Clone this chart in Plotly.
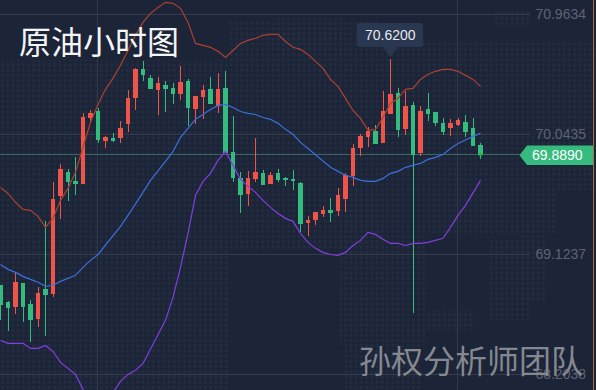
import plotly.graph_objects as go
import base64

W, H = 596, 390

opens = [68.887,68.756,68.725,68.902,68.740,68.634,68.856,68.825,69.576,69.753,69.683,69.668,70.173,70.219,69.997,70.013,70.020,70.128,70.327,70.542,70.473,70.389,70.419,70.396,70.358,70.450,70.243,70.335,70.389,70.266,70.396,69.906,69.706,69.591,69.706,69.745,69.668,69.745,69.706,69.699,69.668,69.369,69.392,69.438,69.461,69.461,69.553,69.730,69.944,70.028,70.066,69.982,70.204,70.358,70.090,70.266,69.906,70.235,70.212,70.128,70.097,70.120,70.136,70.090,69.960]
closes = [68.740,68.717,68.910,68.725,68.626,68.825,68.817,69.545,69.775,69.683,69.668,70.173,70.204,70.004,70.020,69.997,70.090,70.320,70.542,70.504,70.396,70.435,70.396,70.358,70.442,70.250,70.335,70.381,70.281,70.389,69.906,69.714,69.583,69.706,69.753,69.660,69.730,69.699,69.699,69.691,69.361,69.384,69.446,69.461,69.446,69.576,69.730,69.936,70.028,70.066,69.974,70.219,70.350,70.082,70.258,69.890,70.219,70.204,70.136,70.066,70.128,70.151,70.066,69.960,69.889]
highs = [68.887,68.763,68.986,68.902,68.771,68.871,69.377,69.676,69.813,69.775,69.867,70.204,70.227,70.243,70.028,70.051,70.143,70.381,70.550,70.603,70.496,70.481,70.450,70.435,70.565,70.465,70.335,70.419,70.481,70.511,70.527,70.181,69.753,69.760,70.013,69.768,69.753,69.775,69.714,69.768,69.676,69.415,69.446,69.492,69.553,69.630,69.745,69.967,70.044,70.097,70.112,70.373,70.620,70.396,70.373,70.289,70.258,70.358,70.219,70.166,70.159,70.173,70.196,70.173,69.975]
lows = [68.618,68.533,68.664,68.603,68.450,68.564,68.495,68.794,69.392,69.530,69.576,69.668,70.136,69.974,69.936,69.982,69.974,70.059,70.227,70.450,70.389,70.196,70.212,70.273,70.304,70.105,70.120,70.159,70.273,70.204,69.906,69.676,69.438,69.492,69.676,69.660,69.668,69.676,69.645,69.614,69.293,69.262,69.346,69.407,69.369,69.415,69.446,69.645,69.875,69.944,69.967,69.974,70.204,70.020,70.036,68.672,69.875,70.143,70.105,70.036,70.028,70.105,70.020,69.960,69.852]
upper = [69.637,69.591,69.523,69.469,69.461,69.415,69.331,69.400,69.538,69.630,69.753,69.944,70.136,70.273,70.389,70.473,70.573,70.687,70.803,70.902,70.971,71.017,71.056,71.048,71.010,70.902,70.741,70.726,70.711,70.680,70.634,70.687,70.741,70.764,70.780,70.803,70.810,70.810,70.756,70.711,70.695,70.657,70.603,70.550,70.465,70.412,70.320,70.227,70.166,70.074,70.082,70.173,70.281,70.320,70.389,70.396,70.465,70.504,70.527,70.542,70.542,70.527,70.496,70.465,70.412]
middle = [69.047,69.009,68.986,68.955,68.932,68.910,68.879,68.887,68.917,68.940,68.963,69.024,69.078,69.123,69.192,69.269,69.338,69.423,69.507,69.599,69.691,69.760,69.836,69.913,70.020,70.090,70.159,70.196,70.235,70.266,70.273,70.250,70.219,70.204,70.196,70.173,70.159,70.128,70.082,70.044,69.982,69.936,69.890,69.844,69.791,69.760,69.730,69.714,69.691,69.683,69.683,69.706,69.745,69.760,69.791,69.806,69.821,69.852,69.867,69.890,69.936,69.974,70.004,70.028,70.051]
lower = [68.465,68.442,68.442,68.442,68.403,68.403,68.426,68.380,68.296,68.250,68.204,68.089,67.982,67.913,67.959,68.066,68.150,68.204,68.235,68.288,68.396,68.511,68.618,68.794,69.024,69.285,69.576,69.683,69.745,69.844,69.913,69.806,69.699,69.645,69.599,69.538,69.484,69.438,69.400,69.377,69.285,69.216,69.170,69.139,69.123,69.116,69.139,69.192,69.231,69.293,69.277,69.239,69.208,69.208,69.192,69.208,69.208,69.216,69.231,69.247,69.331,69.423,69.500,69.591,69.691]
tick_values = [70.9634, 70.0435, 69.1237, 68.2038]
tick_labels = ["70.9634", "70.0435", "69.1237", "68.2038"]
last_price = 69.889
peak_label = "70.6200"
last_label = "69.8890"
title_text = "原油小时图"
watermark_text = "孙权分析师团队"

BG = "#1c2438"
RED = "#ee5449"
GREEN = "#36bb7f"
GRID = "#393f4f"
CJK = "Noto Sans CJK SC"
NUM = "Liberation Sans"

Y_TOP, Y_BOTTOM = 71.0736, 68.0843
X_LEFT, X_RIGHT = -0.0667, 79.4

def px(x):
    return x / W

def py(y):
    return 1 - y / H

xs = list(range(len(opens)))

# faint dotted backdrop pattern
dot_regions = [(0,60,230,390),(230,20,380,250),(275,18,345,60),(380,40,595,190),(495,12,530,26),
               (340,190,555,235),(340,235,425,345),(345,345,420,390),(490,240,530,320),(520,230,545,300),(425,310,475,330)]
rects = "".join(f'<rect x="{a}" y="{b}" width="{c-a}" height="{d-b}" fill="url(#p)"/>' for a, b, c, d in dot_regions)
svg = (f'<svg xmlns="http://www.w3.org/2000/svg" width="{W}" height="{H}" viewBox="0 0 {W} {H}">'
       '<defs><pattern id="p" width="5.2" height="5.2" patternUnits="userSpaceOnUse">'
       '<circle cx="2.6" cy="2.6" r="1.7" fill="#232c40"/></pattern></defs>' + rects + '</svg>')
svg_uri = "data:image/svg+xml;base64," + base64.b64encode(svg.encode()).decode()

fig = go.Figure()
fig.add_trace(go.Candlestick(
    x=xs, open=opens, high=highs, low=lows, close=closes,
    increasing=dict(line=dict(color=RED, width=1), fillcolor=RED),
    decreasing=dict(line=dict(color=GREEN, width=1), fillcolor=GREEN),
    whiskerwidth=0, hoverinfo="skip", showlegend=False))
for vals, col in ((upper, "#ad4130"), (middle, "#3c6fd8"), (lower, "#823fdf")):
    fig.add_trace(go.Scatter(x=xs, y=vals, mode="lines", line=dict(color=col, width=1.2),
                             hoverinfo="skip", showlegend=False))
fig.add_trace(go.Scatter(x=[xs[-1]], y=[last_price], mode="markers",
                         marker=dict(color="#2fb344", size=4, symbol="cross"),
                         hoverinfo="skip", showlegend=False))

shapes = []
for tv in tick_values:
    shapes.append(dict(type="line", xref="paper", yref="y", x0=0, x1=px(530), y0=tv, y1=tv,
                       line=dict(color=GRID, width=1), layer="below"))
for vx in (97.5, 457.5):
    shapes.append(dict(type="line", xref="paper", yref="paper", x0=px(vx), x1=px(vx), y0=0, y1=1,
                       line=dict(color="#30384a", width=1), layer="below"))
shapes.append(dict(type="line", xref="paper", yref="y", x0=0, x1=px(522), y0=last_price, y1=last_price,
                   line=dict(color="#3b6b66", width=1), layer="below"))
shapes.append(dict(type="line", xref="paper", yref="paper", x0=px(593.5), x1=px(593.5), y0=0, y1=1,
                   line=dict(color="#a5703f", width=1)))
# last-price flag
flag = [(519.5,155.3),(527,145.5),(593,145.5),(593,165),(527,165)]
shapes.append(dict(type="path", xref="paper", yref="paper", fillcolor=GREEN, line=dict(width=0),
                   path="M" + " L".join(f"{px(a):.5f},{py(b):.5f}" for a, b in flag) + " Z"))
# peak tooltip
tip = [(359,23),(421,23),(423,25),(423,45),(421,47),(398,47),(390.5,57),(383,47),(359,47),(357,45),(357,25)]
shapes.append(dict(type="path", xref="paper", yref="paper", fillcolor="#2a3751", line=dict(width=0),
                   path="M" + " L".join(f"{px(a):.5f},{py(b):.5f}" for a, b in tip) + " Z"))

def note(text, cx, cy, size, color, family):
    return dict(text=text, xref="paper", yref="paper", x=px(cx), y=py(cy), xanchor="center", yanchor="middle",
                showarrow=False, font=dict(size=size, color=color, family=family))

annotations = [
    note(title_text, 99, 40, 32, "#f4f5f6", CJK),
    note(watermark_text, 471, 359, 32, "#85888f", CJK),
    note(peak_label, 390, 35, 14, "#e8eaee", NUM),
    note(last_label, 557, 155, 14, "#ffffff", NUM),
]

fig.update_layout(
    width=W, height=H, margin=dict(l=0, r=0, t=0, b=0), autosize=False,
    paper_bgcolor=BG, plot_bgcolor=BG, boxgap=0.47, boxgroupgap=0, showlegend=False,
    shapes=shapes, annotations=annotations,
    images=[dict(source=svg_uri, xref="paper", yref="paper", x=0, y=1, sizex=1, sizey=1,
                 sizing="stretch", xanchor="left", yanchor="top", layer="below")],
    xaxis=dict(range=[X_LEFT, X_RIGHT], visible=False, rangeslider=dict(visible=False), fixedrange=True),
    yaxis=dict(range=[Y_BOTTOM, Y_TOP], side="right", showgrid=False, zeroline=False, showline=False,
               tickmode="array", tickvals=tick_values, ticktext=tick_labels, ticks="",
               ticklabelposition="inside", ticklabelstandoff=7,
               tickfont=dict(size=14, color="#5c6373", family=NUM), fixedrange=True),
)
post = ("document.body.style.margin='0';document.body.style.background='#1c2438';"
        "var crisp=function(){document.querySelectorAll('.boxes path').forEach(function(p){p.style.shapeRendering='crispEdges';});};"
        "crisp();setTimeout(crisp,50);")
fig.write_html("out.html", config=dict(displayModeBar=False), post_script=post)
